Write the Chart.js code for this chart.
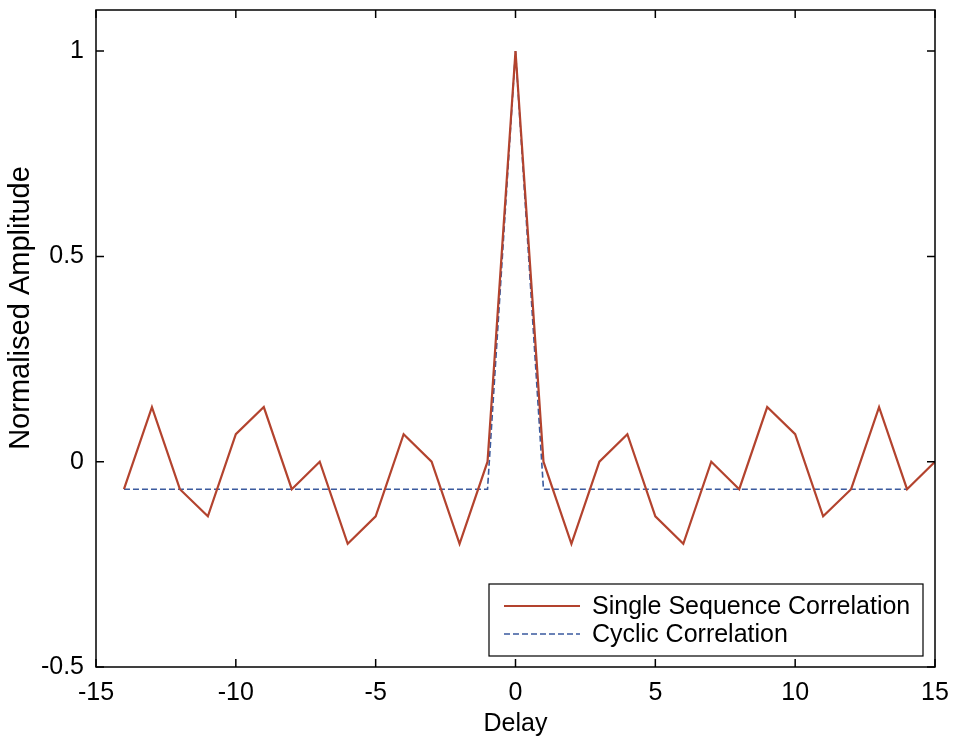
<!DOCTYPE html>
<html>
<head>
<meta charset="utf-8">
<script src="https://cdn.jsdelivr.net/npm/chart.js@4.4.1/dist/chart.umd.min.js"></script>
<style>
  html, body { margin: 0; padding: 0; background: #fff; }
  canvas { display: block; }
</style>
</head>
<body>
<canvas id="chart" width="954" height="741"></canvas>
<script>
// Delay axis values
const delays = [-14, -13, -12, -11, -10, -9, -8, -7, -6, -5, -4, -3, -2, -1, 0,
                1, 2, 3, 4, 5, 6, 7, 8, 9, 10, 11, 12, 13, 14, 15];
// Single sequence correlation (multiples of 1/15)
const singleCorr = [-0.067, 0.133, -0.067, -0.133, 0.067, 0.133, -0.067, 0, -0.2, -0.133, 0.067, 0, -0.2, 0, 1,
                    0, -0.2, 0, 0.067, -0.133, -0.2, 0, -0.067, 0.133, 0.067, -0.133, -0.067, 0.133, -0.067, 0];
// Cyclic correlation
const cyclicDelays = [-14, -13, -12, -11, -10, -9, -8, -7, -6, -5, -4, -3, -2, -1, 0,
                      1, 2, 3, 4, 5, 6, 7, 8, 9, 10, 11, 12, 13, 14];
const cyclicCorr = [-0.067, -0.067, -0.067, -0.067, -0.067, -0.067, -0.067, -0.067, -0.067, -0.067, -0.067, -0.067, -0.067, -0.067, 1,
                    -0.067, -0.067, -0.067, -0.067, -0.067, -0.067, -0.067, -0.067, -0.067, -0.067, -0.067, -0.067, -0.067, -0.067];
const xTicks = [-15, -10, -5, 0, 5, 10, 15];
const yTicks = [-0.5, 0, 0.5, 1];
const yLabel = 'Normalised Amplitude';

const FONT = '"Liberation Sans", Arial, sans-serif';

// box around the axes, inward ticks, y label and the legend, matlab style
const matlabFrame = {
    id: 'matlabFrame',
    afterDraw(chart) {
        const ctx = chart.ctx;
        const a = chart.chartArea;
        const xs = chart.scales.x, ys = chart.scales.y;
        ctx.save();
        ctx.strokeStyle = '#000';
        ctx.lineWidth = 1.5;
        ctx.strokeRect(a.left, a.top, a.right - a.left, a.bottom - a.top);
        ctx.beginPath();
        const tl = 8;
        xTicks.forEach(v => {
            const px = xs.getPixelForValue(v);
            ctx.moveTo(px, a.bottom); ctx.lineTo(px, a.bottom - tl);
            ctx.moveTo(px, a.top); ctx.lineTo(px, a.top + tl);
        });
        yTicks.forEach(v => {
            const py = ys.getPixelForValue(v);
            ctx.moveTo(a.left, py); ctx.lineTo(a.left + tl, py);
            ctx.moveTo(a.right, py); ctx.lineTo(a.right - tl, py);
        });
        ctx.stroke();

        // y axis label, sits a bit above the middle like in the original
        ctx.save();
        ctx.translate(21, 308);
        ctx.rotate(-Math.PI / 2);
        ctx.font = '29px ' + FONT;
        ctx.fillStyle = '#000';
        ctx.textAlign = 'center';
        ctx.textBaseline = 'middle';
        ctx.fillText(yLabel, 0, 0);
        ctx.restore();

        // legend
        const bx = 489, by = 584, bw = 434, bh = 72;
        ctx.fillStyle = '#fff';
        ctx.fillRect(bx, by, bw, bh);
        ctx.lineWidth = 1.2;
        ctx.strokeRect(bx, by, bw, bh);
        ctx.font = '25px ' + FONT;
        ctx.textBaseline = 'middle';
        chart.data.datasets.forEach((ds, i) => {
            const y = by + 22 + i * 28;
            ctx.strokeStyle = ds.borderColor;
            ctx.lineWidth = ds.borderWidth;
            ctx.setLineDash(ds.borderDash || []);
            ctx.beginPath();
            ctx.moveTo(bx + 15, y); ctx.lineTo(bx + 91, y);
            ctx.stroke();
            ctx.setLineDash([]);
            ctx.fillStyle = '#000';
            ctx.fillText(ds.label, bx + 103, y + 1);
        });
        ctx.restore();
    }
};

new Chart(document.getElementById('chart').getContext('2d'), {
    type: 'line',
    data: {
        datasets: [
            {
                label: 'Single Sequence Correlation',
                data: delays.map((d, i) => ({ x: d, y: singleCorr[i] })),
                borderColor: '#b3432e',
                borderWidth: 2.2,
                pointRadius: 0,
                fill: false
            },
            {
                label: 'Cyclic Correlation',
                data: cyclicDelays.map((d, i) => ({ x: d, y: cyclicCorr[i] })),
                borderColor: '#3a5a9e',
                borderDash: [6, 3],
                borderWidth: 1.6,
                pointRadius: 0,
                fill: false
            }
        ]
    },
    options: {
        responsive: false,
        animation: false,
        layout: { padding: { top: 10, right: 19, left: 0, bottom: 0 } },
        plugins: { legend: { display: false }, tooltip: { enabled: false } },
        scales: {
            x: {
                type: 'linear',
                min: -15, max: 15,
                afterBuildTicks: s => { s.ticks = xTicks.map(v => ({ value: v })); },
                afterFit: s => { s.height = 74; s.paddingLeft = 0; s.paddingRight = 0; },
                grid: { display: false },
                border: { display: false },
                ticks: { color: '#000', font: { family: FONT, size: 25 }, padding: 3, maxRotation: 0 },
                title: { display: true, text: 'Delay', color: '#000', font: { family: FONT, size: 25 }, padding: { top: 0, bottom: 2 } }
            },
            y: {
                min: -0.5, max: 1.1,
                afterBuildTicks: s => { s.ticks = yTicks.map(v => ({ value: v })); },
                afterFit: s => { s.width = 96; s.paddingTop = 0; s.paddingBottom = 0; },
                grid: { display: false },
                border: { display: false },
                ticks: { color: '#000', font: { family: FONT, size: 25 }, padding: 4, callback: v => String(v) },
                title: { display: false }
            }
        }
    },
    plugins: [matlabFrame]
});
</script>
</body>
</html>
